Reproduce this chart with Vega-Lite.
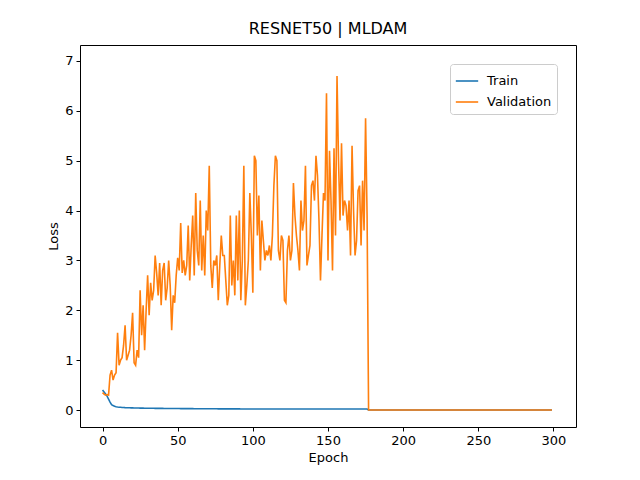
{
  "$schema": "https://vega.github.io/schema/vega-lite/v6.json",
  "width": 496,
  "height": 382,
  "autosize": "none",
  "padding": {"left": 80, "top": 45, "right": 64, "bottom": 53},
  "background": "white",
  "config": {
    "font": "DejaVu Sans",
    "view": {"stroke": "black", "strokeWidth": 1},
    "axis": {"grid": false, "domain": false, "tickColor": "black", "tickSize": 4, "labelColor": "black", "labelFontSize": 13, "titleFontSize": 13, "titleFontWeight": "normal", "titleColor": "black", "labelPadding": 3}
  },
  "title": {"text": "RESNET50 | MLDAM", "fontSize": 16, "fontWeight": "normal", "offset": 8},
  "data": {"values": [
{"e":0,"t":0.4,"v":0.35},{"e":1,"t":0.36,"v":0.32},{"e":2,"t":0.32,"v":0.3},{"e":3,"t":0.28,"v":0.31},{"e":4,"t":0.22,"v":0.3},{"e":5,"t":0.16,"v":0.7},{"e":6,"t":0.11,"v":0.8},{"e":7,"t":0.09,"v":0.6},{"e":8,"t":0.075,"v":0.7},{"e":9,"t":0.065,"v":0.75},
{"e":10,"t":0.06,"v":1.55},{"e":11,"t":0.057,"v":0.9},{"e":12,"t":0.055,"v":1.0},{"e":13,"t":0.052,"v":1.05},{"e":14,"t":0.05,"v":1.3},{"e":15,"t":0.048,"v":1.7},{"e":16,"t":0.047,"v":1.0},{"e":17,"t":0.046,"v":1.1},{"e":18,"t":0.045,"v":1.2},{"e":19,"t":0.044,"v":1.5},
{"e":20,"t":0.043,"v":1.95},{"e":21,"t":0.042,"v":0.95},{"e":22,"t":0.041,"v":0.9},{"e":23,"t":0.04,"v":1.2},{"e":24,"t":0.04,"v":1.05},{"e":25,"t":0.039,"v":2.4},{"e":26,"t":0.038,"v":1.5},{"e":27,"t":0.038,"v":2.1},{"e":28,"t":0.037,"v":1.2},{"e":29,"t":0.037,"v":2.0},
{"e":30,"t":0.036,"v":2.7},{"e":31,"t":0.036,"v":1.9},{"e":32,"t":0.035,"v":2.55},{"e":33,"t":0.035,"v":2.2},{"e":34,"t":0.035,"v":2.4},{"e":35,"t":0.034,"v":3.1},{"e":36,"t":0.034,"v":2.75},{"e":37,"t":0.034,"v":2.3},{"e":38,"t":0.033,"v":2.95},{"e":39,"t":0.033,"v":2.1},
{"e":40,"t":0.033,"v":2.8},{"e":41,"t":0.032,"v":2.95},{"e":42,"t":0.032,"v":2.2},{"e":43,"t":0.032,"v":2.45},{"e":44,"t":0.031,"v":3.0},{"e":45,"t":0.031,"v":2.5},{"e":46,"t":0.031,"v":1.6},{"e":47,"t":0.03,"v":2.3},{"e":48,"t":0.03,"v":2.15},{"e":49,"t":0.03,"v":2.7},
{"e":50,"t":0.03,"v":3.05},{"e":51,"t":0.03,"v":2.8},{"e":52,"t":0.029,"v":3.75},{"e":53,"t":0.029,"v":2.75},{"e":54,"t":0.029,"v":3.0},{"e":55,"t":0.029,"v":2.7},{"e":56,"t":0.028,"v":2.9},{"e":57,"t":0.028,"v":3.7},{"e":58,"t":0.028,"v":2.6},{"e":59,"t":0.028,"v":3.3},
{"e":60,"t":0.028,"v":3.9},{"e":61,"t":0.027,"v":2.7},{"e":62,"t":0.027,"v":4.35},{"e":63,"t":0.027,"v":3.2},{"e":64,"t":0.027,"v":2.9},{"e":65,"t":0.027,"v":4.2},{"e":66,"t":0.026,"v":2.8},{"e":67,"t":0.026,"v":3.5},{"e":68,"t":0.026,"v":2.7},{"e":69,"t":0.026,"v":4.0},
{"e":70,"t":0.026,"v":3.6},{"e":71,"t":0.025,"v":4.9},{"e":72,"t":0.025,"v":2.9},{"e":73,"t":0.025,"v":2.45},{"e":74,"t":0.025,"v":3.0},{"e":75,"t":0.025,"v":2.9},{"e":76,"t":0.025,"v":3.1},{"e":77,"t":0.024,"v":2.2},{"e":78,"t":0.024,"v":2.9},{"e":79,"t":0.024,"v":3.5},
{"e":80,"t":0.024,"v":3.1},{"e":81,"t":0.024,"v":3.1},{"e":82,"t":0.024,"v":2.6},{"e":83,"t":0.024,"v":2.1},{"e":84,"t":0.023,"v":2.3},{"e":85,"t":0.023,"v":3.9},{"e":86,"t":0.023,"v":2.5},{"e":87,"t":0.023,"v":3.0},{"e":88,"t":0.023,"v":2.3},{"e":89,"t":0.023,"v":3.9},
{"e":90,"t":0.023,"v":2.6},{"e":91,"t":0.023,"v":4.0},{"e":92,"t":0.022,"v":2.2},{"e":93,"t":0.022,"v":3.0},{"e":94,"t":0.022,"v":4.9},{"e":95,"t":0.022,"v":2.1},{"e":96,"t":0.022,"v":2.5},{"e":97,"t":0.022,"v":3.0},{"e":98,"t":0.022,"v":4.35},{"e":99,"t":0.022,"v":3.5},
{"e":100,"t":0.022,"v":2.35},{"e":101,"t":0.022,"v":5.1},{"e":102,"t":0.021,"v":5.0},{"e":103,"t":0.021,"v":3.5},{"e":104,"t":0.021,"v":4.3},{"e":105,"t":0.021,"v":2.8},{"e":106,"t":0.021,"v":3.8},{"e":107,"t":0.021,"v":3.4},{"e":108,"t":0.021,"v":3.0},{"e":109,"t":0.021,"v":3.2},
{"e":110,"t":0.021,"v":3.1},{"e":111,"t":0.021,"v":3.3},{"e":112,"t":0.021,"v":3.0},{"e":113,"t":0.02,"v":3.5},{"e":114,"t":0.02,"v":4.5},{"e":115,"t":0.02,"v":5.1},{"e":116,"t":0.02,"v":5.0},{"e":117,"t":0.02,"v":3.2},{"e":118,"t":0.02,"v":3.0},{"e":119,"t":0.02,"v":3.5},
{"e":120,"t":0.02,"v":3.4},{"e":121,"t":0.02,"v":2.2},{"e":122,"t":0.02,"v":2.15},{"e":123,"t":0.02,"v":3.2},{"e":124,"t":0.02,"v":3.5},{"e":125,"t":0.02,"v":3.0},{"e":126,"t":0.02,"v":3.2},{"e":127,"t":0.02,"v":4.55},{"e":128,"t":0.02,"v":3.9},{"e":129,"t":0.02,"v":3.5},
{"e":130,"t":0.02,"v":3.2},{"e":131,"t":0.02,"v":2.8},{"e":132,"t":0.02,"v":4.2},{"e":133,"t":0.02,"v":3.6},{"e":134,"t":0.02,"v":3.8},{"e":135,"t":0.02,"v":4.9},{"e":136,"t":0.02,"v":2.9},{"e":137,"t":0.02,"v":3.1},{"e":138,"t":0.02,"v":3.3},{"e":139,"t":0.02,"v":4.5},
{"e":140,"t":0.02,"v":4.6},{"e":141,"t":0.02,"v":4.2},{"e":142,"t":0.02,"v":5.1},{"e":143,"t":0.02,"v":4.7},{"e":144,"t":0.02,"v":3.8},{"e":145,"t":0.02,"v":2.6},{"e":146,"t":0.02,"v":3.5},{"e":147,"t":0.02,"v":4.35},{"e":148,"t":0.02,"v":4.2},{"e":149,"t":0.02,"v":6.35},
{"e":150,"t":0.02,"v":3.0},{"e":151,"t":0.02,"v":5.2},{"e":152,"t":0.02,"v":4.2},{"e":153,"t":0.02,"v":2.8},{"e":154,"t":0.02,"v":5.25},{"e":155,"t":0.02,"v":3.5},{"e":156,"t":0.02,"v":6.7},{"e":157,"t":0.02,"v":5.0},{"e":158,"t":0.02,"v":3.8},{"e":159,"t":0.02,"v":5.35},
{"e":160,"t":0.02,"v":3.9},{"e":161,"t":0.02,"v":4.2},{"e":162,"t":0.02,"v":4.1},{"e":163,"t":0.02,"v":3.6},{"e":164,"t":0.02,"v":4.2},{"e":165,"t":0.02,"v":3.1},{"e":166,"t":0.02,"v":5.3},{"e":167,"t":0.02,"v":4.0},{"e":168,"t":0.02,"v":3.1},{"e":169,"t":0.02,"v":3.4},
{"e":170,"t":0.02,"v":4.4},{"e":171,"t":0.02,"v":4.5},{"e":172,"t":0.02,"v":3.3},{"e":173,"t":0.02,"v":4.6},{"e":174,"t":0.02,"v":3.6},{"e":175,"t":0.02,"v":5.85},{"e":176,"t":0.02,"v":3.9},
{"e":177,"t":0,"v":0},{"e":200,"t":0,"v":0},{"e":225,"t":0,"v":0},{"e":250,"t":0,"v":0},{"e":275,"t":0,"v":0},{"e":299,"t":0,"v":0}
  ]},
  "transform": [{"fold": ["t", "v"], "as": ["k", "loss"]}],
  "mark": {"type": "line", "strokeWidth": 1.6, "clip": true},
  "encoding": {
    "x": {"field": "e", "type": "quantitative", "title": "Epoch", "scale": {"domain": [-15, 315], "nice": false, "zero": false}, "axis": {"values": [0, 50, 100, 150, 200, 250, 300]}},
    "y": {"field": "loss", "type": "quantitative", "title": "Loss", "scale": {"domain": [-0.34, 7.32], "nice": false, "zero": false}, "axis": {"values": [0, 1, 2, 3, 4, 5, 6, 7]}},
    "color": {"field": "k", "type": "nominal",
      "scale": {"domain": ["t", "v"], "range": ["#1f77b4", "#ff7f0e"]},
      "legend": {"title": null, "orient": "none", "legendX": 370, "legendY": 19, "labelExpr": "datum.label == 't' ? 'Train' : 'Validation'", "symbolType": "stroke", "symbolStrokeWidth": 1.6, "symbolSize": 500, "labelFontSize": 13, "labelColor": "black", "fillColor": "white", "strokeColor": "#cccccc", "cornerRadius": 3, "padding": 5, "rowPadding": 2, "labelOffset": 8}
    }
  }
}
